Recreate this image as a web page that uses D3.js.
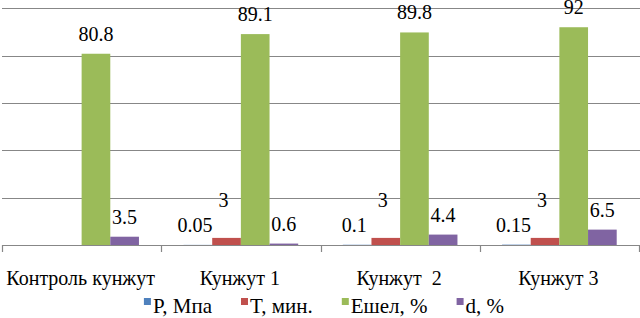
<!DOCTYPE html>
<html>
<head>
<meta charset="utf-8">
<script src="https://cdn.jsdelivr.net/npm/d3@7"></script>
</head>
<body style="margin:0">
<script>
// chart data
var categories = ["Контроль кунжут", "Кунжут 1", "Кунжут  2", "Кунжут 3"];
var seriesNames = ["P, Мпа", "T, мин.", "Ешел, %", "d, %"];
var pValues = [null, 0.05, 0.1, 0.15];
var tValues = [null, 3, 3, 3];
var eshelValues = [80.8, 89.1, 89.8, 92];
var dValues = [3.5, 0.6, 4.4, 6.5];
var yTicks = [0, 20, 40, 60, 80, 100];

var colors = ["#4F81BD", "#C0504D", "#9BBB59", "#8064A2"];
// label nudges per series (excel pushed the T labels up so they don't overlap)
var labelDx = [-3, -3, 0, 0];
var labelDy = [0, -18, 0, 0];

var w = 640, h = 318;
var allValues = [pValues, tValues, eshelValues, dValues];
var font = "'Liberation Serif'";

var svg = d3.select("body").append("svg")
    .attr("width", w)
    .attr("height", h);

// outer band per category, inner band per series
var x0 = d3.scaleBand().domain(categories).range([2, 639]).padding(0);
var gap = x0.bandwidth() * 0.28;
var x1 = d3.scaleBand().domain(seriesNames).range([gap / 2, x0.bandwidth() - gap / 2]).padding(0);
var y = d3.scaleLinear().domain([0, 100]).range([245, 8.3]);

// gridlines
svg.append("g").selectAll("line").data(yTicks).enter().append("line")
    .attr("x1", 2).attr("x2", w)
    .attr("y1", function(d) { return Math.round(y(d)) + 0.5; })
    .attr("y2", function(d) { return Math.round(y(d)) + 0.5; })
    .attr("stroke", "#878787").attr("stroke-width", 1.2);

// tick marks between categories
var edges = categories.map(function(c) { return x0(c); }).concat([x0.range()[1]]);
svg.append("g").selectAll("line").data(edges).enter().append("line")
    .attr("x1", function(d) { return Math.round(d) + 0.5; })
    .attr("x2", function(d) { return Math.round(d) + 0.5; })
    .attr("y1", Math.round(y(0))).attr("y2", Math.round(y(0)) + 7)
    .attr("stroke", "#878787").attr("stroke-width", 1.2);

svg.selectAll("text.cat").data(categories).enter().append("text")
    .attr("class", "cat")
    .attr("x", function(d) { return x0(d) + x0.bandwidth() / 2 - 1; })
    .attr("y", 285)
    .attr("text-anchor", "middle")
    .attr("font-size", 20)
    .style("font-family", font)
    .attr("xml:space", "preserve")
    .style("white-space", "pre")
    .text(function(d) { return d; });

// bars + value labels
seriesNames.forEach(function(s, si) {
    var vals = allValues[si];
    var pts = categories.map(function(c, ci) { return { cat: c, v: vals[ci] }; })
        .filter(function(d) { return d.v != null; });

    svg.selectAll("rect.s" + si).data(pts).enter().append("rect")
        .attr("class", "s" + si)
        .attr("x", function(d) { return x0(d.cat) + x1(s); })
        .attr("width", x1.bandwidth())
        .attr("y", function(d) { return y(d.v); })
        .attr("height", function(d) { return y(0) - y(d.v); })
        .attr("fill", colors[si]);

    svg.selectAll("text.s" + si).data(pts).enter().append("text")
        .attr("class", "s" + si)
        .attr("x", function(d) { return x0(d.cat) + x1(s) + x1.bandwidth() / 2 + labelDx[si]; })
        .attr("y", function(d) { return y(d.v) - 13 + labelDy[si]; })
        .attr("text-anchor", "middle")
        .attr("font-size", 20)
        .style("font-family", font)
        .text(function(d) { return d.v; });
});

// legend
var items = svg.selectAll("g.leg").data(seriesNames).enter().append("g").attr("class", "leg");
items.append("rect").attr("width", 7).attr("height", 7).attr("y", 298)
    .attr("fill", function(d, i) { return colors[i]; });
items.append("text").attr("x", 9).attr("y", 313)
    .attr("font-size", 21).style("font-family", font)
    .text(function(d) { return d; });

var offs = [], cur = 0;
items.each(function() {
    offs.push(cur);
    cur += 9 + d3.select(this).select("text").node().getComputedTextLength() + 29;
});
var startX = 324 - (cur - 29) / 2;
items.attr("transform", function(d, i) { return "translate(" + (startX + offs[i]) + ",0)"; });
</script>
</body>
</html>
